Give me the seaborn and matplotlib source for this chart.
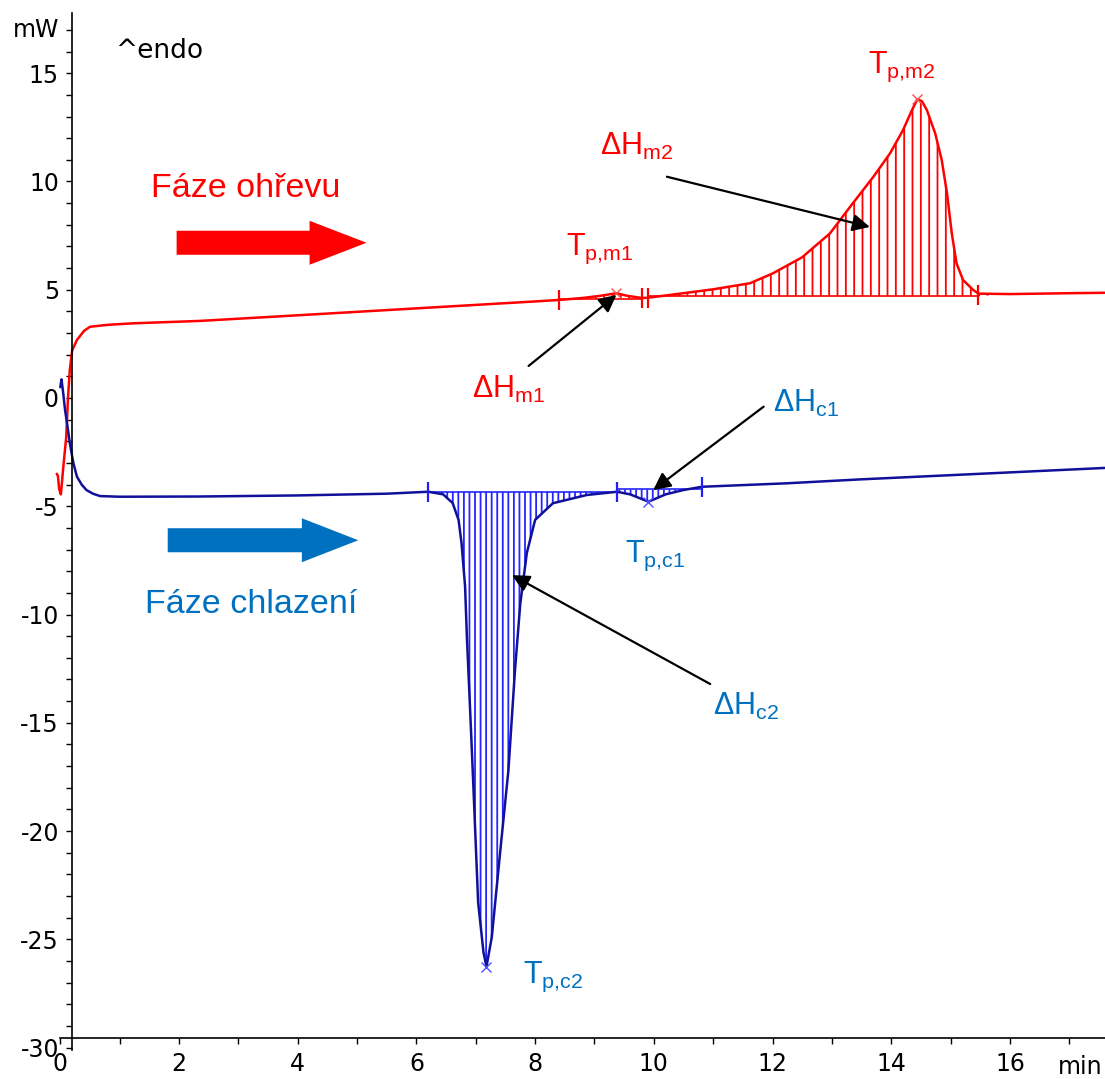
import numpy as np
import pandas as pd
import matplotlib.pyplot as plt
import seaborn as sns
from matplotlib.patches import FancyArrow

# Heating run (red) - time [min], heat flow [mW]
heat_t = [-0.06, -0.04, -0.02, 0.01, 0.05, 0.10, 0.13, 0.16, 0.20, 0.28, 0.40, 0.50,
          0.80, 1.23, 2.35, 4.0, 6.0, 8.0, 8.41, 8.8, 9.1, 9.37, 9.55, 9.8, 9.9,
          10.5, 11.0, 11.62, 12.0, 12.5, 12.97, 13.31, 13.70, 13.98, 14.20, 14.35,
          14.44, 14.52, 14.60, 14.74, 14.85, 14.94, 15.02, 15.10, 15.21, 15.38,
          15.47, 16.0, 17.0, 17.6]
heat_mw = [-3.5, -3.6, -4.2, -4.45, -3.2, -1.8, 0.0, 1.3, 2.2, 2.68, 3.1, 3.29,
           3.38, 3.45, 3.56, 3.82, 4.14, 4.46, 4.53, 4.62, 4.72, 4.84, 4.72, 4.62, 4.63,
           4.84, 5.02, 5.30, 5.75, 6.5, 7.61, 8.84, 10.22, 11.30, 12.38, 13.30,
           13.80, 13.70, 13.30, 12.23, 11.0, 9.45, 7.61, 6.22, 5.45, 4.99,
           4.82, 4.80, 4.84, 4.86]

# Cooling run (blue)
cool_t = [0.0, 0.02, 0.05, 0.08, 0.12, 0.16, 0.22, 0.28, 0.36, 0.44, 0.55, 0.67,
          1.0, 2.35, 4.0, 5.5, 6.2, 6.45, 6.61, 6.71, 6.76, 6.82, 6.85, 6.90, 6.96,
          7.04, 7.13, 7.18, 7.27, 7.41, 7.55, 7.66, 7.75, 7.86, 8.0, 8.30, 8.87,
          9.38, 9.60, 9.91, 10.2, 10.5, 10.81, 12.24, 13.47, 15.5, 17.6]
cool_mw = [0.5, 0.86, 0.2, -0.55, -1.3, -2.08, -3.0, -3.63, -4.0, -4.25, -4.42, -4.53,
           -4.56, -4.55, -4.50, -4.42, -4.33, -4.45, -4.85, -5.63, -6.7, -8.7, -11.0, -14.1, -17.95,
           -23.3, -25.6, -26.27, -24.9, -21.0, -17.2, -12.6, -9.5, -7.16, -5.63, -4.86, -4.48,
           -4.33, -4.45, -4.79, -4.45, -4.25, -4.10, -3.94, -3.76, -3.5, -3.23]

# integration limits and baselines
heat_limits_t = [8.41, 9.8, 9.9, 15.47]
heat_limits_y = [4.53, 4.62, 4.63, 4.78]
cool_limits_t = [6.2, 9.38, 10.81]
cool_limits_y = [-4.33, -4.33, -4.10]
heat_peaks = [(8.41, 9.8, 4.58), (9.9, 15.47, 4.70)]
cool_peaks = [(6.2, 9.38, -4.33), (9.38, 10.81, -4.22)]

# peak temperatures
heat_tp_t = [9.37, 14.44]
heat_tp_y = [4.84, 13.80]
cool_tp_t = [9.91, 7.18]
cool_tp_y = [-4.79, -26.27]

heat = pd.DataFrame({'t': heat_t, 'mw': heat_mw})
cool = pd.DataFrame({'t': cool_t, 'mw': cool_mw})

RED = '#ff0000'
BLUE_TXT = '#0070c0'

sns.set_style('ticks')
plt.rcParams['font.family'] = ['DejaVu Sans']
plt.rcParams['axes.unicode_minus'] = False
plt.rcParams['text.color'] = 'black'
plt.rcParams['hatch.linewidth'] = 1.3
plt.rcParams['mathtext.fontset'] = 'custom'
plt.rcParams['mathtext.rm'] = 'Liberation Sans'

fig = plt.figure(figsize=(11.05, 10.79), dpi=100)
ax = fig.add_axes([0.05457, 0.02715, 0.94534, 0.96117])

# hatched peak areas
for a, b, base in heat_peaks:
    m = (heat['t'] >= a) & (heat['t'] <= b)
    ax.fill_between(heat['t'], heat['mw'], base, where=m, interpolate=True,
                    facecolor='none', edgecolor=RED, hatch='||', linewidth=0)
    ax.plot([a, b], [base, base], color=RED, lw=1.2)
for a, b, base in cool_peaks:
    m = (cool['t'] >= a) & (cool['t'] <= b)
    ax.fill_between(cool['t'], cool['mw'], base, where=m, interpolate=True,
                    facecolor='none', edgecolor='#2525ff', hatch='|||', linewidth=0)
    ax.plot([a, b], [base, base], color='#2525ff', lw=1.2)

sns.lineplot(data=heat, x='t', y='mw', ax=ax, color=RED, lw=1.8, sort=False,
             estimator=None, clip_on=False)
sns.lineplot(data=cool, x='t', y='mw', ax=ax, color='#10109a', lw=1.8, sort=False,
             estimator=None, clip_on=False)

# limit and peak markers
ax.plot(heat_limits_t, heat_limits_y, ls='none', marker='|', ms=14, mew=1.6, color=RED)
ax.plot(cool_limits_t, cool_limits_y, ls='none', marker='|', ms=14, mew=1.6, color='#2020ff')
ax.plot(heat_tp_t, heat_tp_y, ls='none', marker='x', ms=7, mew=1, color='#ff5050')
ax.plot(cool_tp_t, cool_tp_y, ls='none', marker='x', ms=7, mew=1, color='#5050ff')

# axes
ax.set_xlim(0, 17.6)
ax.set_ylim(-30.1, 17.8)
ax.spines['left'].set_position(('data', 0.2))
ax.spines['bottom'].set_position(('data', -29.55))
ax.spines['top'].set_visible(False)
ax.spines['right'].set_visible(False)
for s in ('left', 'bottom'):
    ax.spines[s].set_linewidth(1.2)
    ax.spines[s].set_color('black')
ax.set_xticks(np.arange(0, 17, 2))
ax.set_xticks(np.arange(0, 18, 1), minor=True)
ax.set_yticks(np.arange(-30, 16, 5))
ax.set_yticks(np.arange(-30, 18, 1), minor=True)
ax.tick_params(which='both', direction='out', length=4.5, width=1, labelsize=17,
               color='black', labelcolor='black')
ax.tick_params(axis='y', pad=5)
ax.tick_params(axis='x', pad=6)
ax.set_xlabel('')
ax.set_ylabel('')

ax.text(-0.02, 17.0, 'mW', ha='right', va='center', fontsize=17, clip_on=False)
ax.text(16.81, -30.9, 'min', ha='left', va='center', fontsize=17, clip_on=False)
ax.text(0.92, 15.7, '^endo', ha='left', va='baseline', fontsize=19)

# phase labels and block arrows
ax.text(1.52, 9.30, 'Fáze ohřevu', color=RED, fontsize=24.5, family='Liberation Sans',
        va='baseline')
ax.text(1.43, -9.93, 'Fáze chlazení', color=BLUE_TXT, fontsize=24.5,
        family='Liberation Sans', va='baseline')
ax.add_patch(FancyArrow(1.96, 7.17, 3.20, 0, width=1.11, head_width=2.03,
                        head_length=0.96, length_includes_head=True, color=RED, lw=0))
ax.add_patch(FancyArrow(1.81, -6.57, 3.21, 0, width=1.11, head_width=2.03,
                        head_length=0.95, length_includes_head=True, color=BLUE_TXT, lw=0))

# enthalpy / peak labels
lab = dict(fontsize=22, family='Liberation Sans', va='baseline')
arw = dict(arrowstyle='-|>', color='black', lw=1.6, mutation_scale=26,
           shrinkA=0, shrinkB=0)
ax.text(9.09, 11.22, r'$\mathregular{ΔH_{m2}}$', color=RED, **lab)
ax.text(6.93, -0.01, r'$\mathregular{ΔH_{m1}}$', color=RED, **lab)
ax.text(12.01, -0.63, r'$\mathregular{ΔH_{c1}}$', color=BLUE_TXT, **lab)
ax.text(10.99, -14.64, r'$\mathregular{ΔH_{c2}}$', color=BLUE_TXT, **lab)
ax.annotate('', xy=(13.64, 7.90), xytext=(10.22, 10.22), arrowprops=arw)
ax.annotate('', xy=(9.37, 4.76), xytext=(7.89, 1.48), arrowprops=arw)
ax.annotate('', xy=(9.99, -4.25), xytext=(11.85, -0.40), arrowprops=arw)
ax.annotate('', xy=(7.61, -8.18), xytext=(10.95, -13.21), arrowprops=arw)

ax.text(8.52, 6.6, r'$\mathregular{T_{p{,}m1}}$', color=RED, **lab)
ax.text(13.61, 15.01, r'$\mathregular{T_{p{,}m2}}$', color=RED, **lab)
ax.text(9.51, -7.57, r'$\mathregular{T_{p{,}c1}}$', color=BLUE_TXT, **lab)
ax.text(7.80, -27.02, r'$\mathregular{T_{p{,}c2}}$', color=BLUE_TXT, **lab)

fig.savefig('out.png', dpi=100)
